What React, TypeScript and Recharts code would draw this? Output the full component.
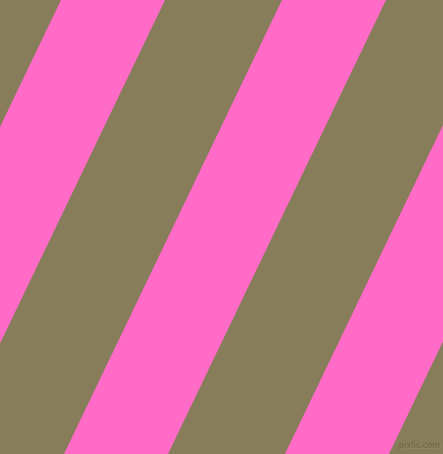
import { ComposedChart, Area, XAxis, YAxis } from "recharts";

// vertical positions (px from top) where the stripe edges are read
const rows = [0, 454];

// left / right edge of each pink band at the top row and at the bottom row
const bandA = [
  [61, 165],
  [-157, -53],
];
const bandB = [
  [282, 386],
  [64, 168],
];
const bandC = [
  [503, 607],
  [285, 389],
];

const PINK = "#ff6bc6";
const OLIVE = "#887d5a";

const chartData = rows.map((row, i) => ({
  row,
  a: bandA[i],
  b: bandB[i],
  c: bandC[i],
}));

export default function App() {
  return (
    <div
      style={{
        position: "relative",
        width: 443,
        height: 454,
        background: OLIVE,
        overflow: "hidden",
      }}
    >
      <style>{`body { margin: 0; }`}</style>
      <ComposedChart
        width={443}
        height={454}
        data={chartData}
        layout="vertical"
        margin={{ top: 0, right: 0, bottom: 0, left: 0 }}
      >
        <XAxis type="number" domain={[0, 443]} allowDataOverflow hide />
        <YAxis type="number" dataKey="row" domain={[0, 454]} allowDataOverflow hide />
        {["a", "b", "c"].map((key) => (
          <Area
            key={key}
            type="linear"
            dataKey={key}
            stroke="none"
            fill={PINK}
            fillOpacity={1}
            dot={false}
            activeDot={false}
            isAnimationActive={false}
          />
        ))}
      </ComposedChart>
      <div
        style={{
          position: "absolute",
          right: 3,
          bottom: 3,
          whiteSpace: "nowrap",
          fontFamily: "'DejaVu Sans', sans-serif",
          fontWeight: "bold",
          fontSize: 8,
          lineHeight: "10px",
          letterSpacing: -0.4,
          color: "#766d4e",
          textShadow: "1px 1px 0 #968c6a",
        }}
      >
        pixlis.com
      </div>
    </div>
  );
}
